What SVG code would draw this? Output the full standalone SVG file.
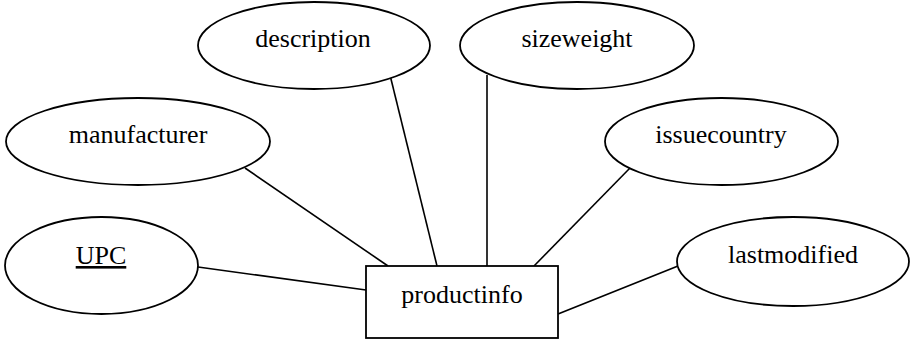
<svg xmlns="http://www.w3.org/2000/svg" width="910" height="339" viewBox="0 0 910 339">
<style>
.s{fill:#fff;stroke:#000;stroke-width:1.8}
.c line{stroke:#000;stroke-width:1.6}
text{font-family:"Liberation Serif","Times New Roman",serif;font-size:26px;fill:#000;text-anchor:middle}
</style>
<rect width="910" height="339" fill="#fff"/>
<g class="c" id="connectors">
<line x1="390" y1="75" x2="437" y2="266"/>
<line x1="245" y1="168" x2="388" y2="266"/>
<line x1="198" y1="267" x2="366" y2="290"/>
<line x1="487" y1="75" x2="487" y2="266"/>
<line x1="630" y1="168" x2="534" y2="266"/>
<line x1="678" y1="266" x2="558" y2="314"/>
</g>
<g id="description"><ellipse class="s" cx="314" cy="45.5" rx="116" ry="43.5"/><text x="313" y="47">description</text></g>
<g id="manufacturer"><ellipse class="s" cx="138" cy="141.5" rx="132" ry="43.5"/><text x="138" y="143">manufacturer</text></g>
<g id="sizeweight"><ellipse class="s" cx="577" cy="45.5" rx="117" ry="43.5"/><text x="577" y="47">sizeweight</text></g>
<g id="issuecountry"><ellipse class="s" cx="721.5" cy="141.5" rx="116.5" ry="43.5"/><text x="721" y="143">issuecountry</text></g>
<g id="UPC"><ellipse class="s" cx="101.5" cy="265.5" rx="96.5" ry="48.5"/><text x="101" y="264" text-decoration="underline">UPC</text></g>
<g id="lastmodified"><ellipse class="s" cx="793" cy="261.5" rx="116" ry="44.5"/><text x="793" y="263">lastmodified</text></g>
<g id="productinfo"><rect class="s" x="366" y="266" width="192" height="72"/><text x="462" y="303">productinfo</text></g>
</svg>
